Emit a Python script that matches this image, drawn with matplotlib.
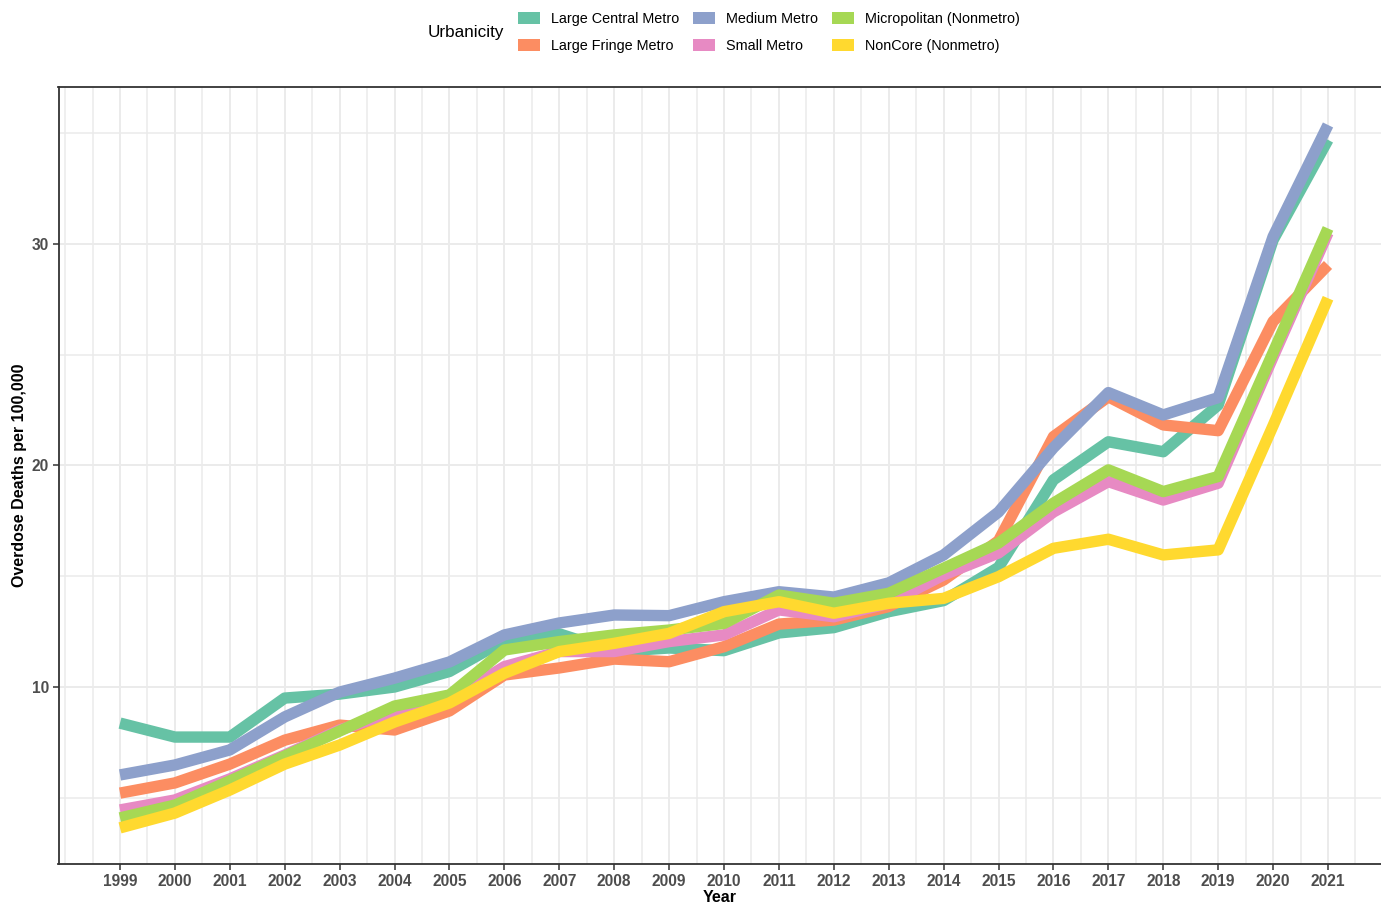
import matplotlib
matplotlib.use("Agg")
import matplotlib.pyplot as plt
from matplotlib.patches import Patch
import numpy as np

plt.rcParams['font.family'] = ['Liberation Sans', 'DejaVu Sans']

years = list(range(1999, 2022))

large_central = [8.37, 7.74, 7.74, 9.5, 9.68, 10.0, 10.7, 12.1, 12.4, 11.6, 11.76, 11.64,
                 12.44, 12.68, 13.4, 13.9, 15.4, 19.35, 21.07, 20.62, 22.73, 30.18, 34.7]
large_fringe = [5.21, 5.67, 6.52, 7.6, 8.28, 8.06, 8.92, 10.54, 10.86, 11.26, 11.14, 11.82,
                12.84, 13.02, 13.63, 14.83, 16.6, 21.3, 23.1, 21.83, 21.57, 26.5, 29.05]
medium = [6.03, 6.48, 7.16, 8.65, 9.77, 10.4, 11.13, 12.35, 12.89, 13.25, 13.22, 13.85,
          14.3, 14.06, 14.7, 15.96, 17.9, 20.8, 23.29, 22.28, 23.06, 30.33, 35.37]
small = [4.45, 4.9, 5.85, 6.93, 8.06, 8.87, 9.41, 10.92, 11.6, 11.6, 12.05, 12.35,
         13.48, 13.17, 13.78, 15.06, 16.05, 17.9, 19.27, 18.44, 19.2, 24.9, 30.5]
micropolitan = [4.09, 4.67, 5.76, 6.88, 8.01, 9.14, 9.64, 11.67, 12.05, 12.35, 12.57, 12.87,
                14.15, 13.78, 14.23, 15.36, 16.5, 18.3, 19.8, 18.82, 19.5, 25.1, 30.7]
noncore = [3.64, 4.31, 5.35, 6.52, 7.38, 8.42, 9.28, 10.62, 11.6, 11.97, 12.42, 13.4,
           13.85, 13.33, 13.78, 14.0, 14.98, 16.26, 16.67, 15.96, 16.19, 21.8, 27.55]

series_names = ["Large Central Metro", "Large Fringe Metro", "Medium Metro",
                "Small Metro", "Micropolitan (Nonmetro)", "NonCore (Nonmetro)"]
series_values = [large_central, large_fringe, medium, small, micropolitan, noncore]
colors = ["#66c2a5", "#fc8d62", "#8da0cb", "#e78ac3", "#a6d854", "#ffd92f"]

W, H = 1381, 905
fig = plt.figure(figsize=(W / 100, H / 100), dpi=100)
ax = fig.add_axes([58.5 / W, (H - 864) / H, (W - 58.5) / W, (864 - 87.3) / H])

for name, vals, c in zip(series_names, series_values, colors):
    ax.plot(years, vals, color=c, lw=8.2, solid_capstyle='butt', solid_joinstyle='round',
            label=name, zorder=3)

ax.set_xlim(1997.88, 2021.965)
ax.set_ylim(2.01, 37.07)

ax.set_xticks(years)
ax.set_xticks(np.arange(1998, 2022, 0.5), minor=True)
ax.set_yticks([10, 20, 30])
ax.set_yticks([5, 15, 25, 35], minor=True)

ax.grid(which='major', color='#ebebeb', lw=1.4, zorder=0)
ax.grid(which='minor', color='#ebebeb', lw=1.1, zorder=0)
ax.set_axisbelow(True)

for s in ['left', 'bottom', 'top']:
    ax.spines[s].set_color('#333333')
    ax.spines[s].set_linewidth(1.3)
ax.spines['right'].set_visible(False)

ax.tick_params(axis='both', which='major', length=4, width=1.1, color='#333333',
               labelsize=11.2, labelcolor='#4d4d4d', pad=3)
ax.tick_params(axis='both', which='minor', length=0)
for lab in ax.get_xticklabels() + ax.get_yticklabels():
    lab.set_fontweight('bold')

ax.set_xlabel("Year", fontsize=11.5, fontweight='bold', labelpad=1)
ax.set_ylabel("Overdose Deaths per 100,000", fontsize=11.5, fontweight='bold', labelpad=3)

handles = [Patch(facecolor=c, edgecolor='none', label=n) for n, c in zip(series_names, colors)]
fs = 10.4
fig.legend(handles=handles, loc='center left', bbox_to_anchor=(518 / W, 1 - 32.5 / H),
           ncol=3, frameon=False, fontsize=fs, handlelength=1.5, handleheight=0.9,
           handletextpad=0.8, columnspacing=0.95, labelspacing=0.85, borderpad=0,
           borderaxespad=0)
fig.text(428 / W, 1 - 33 / H, "Urbanicity", fontsize=12.3, ha='left', va='center')

fig.savefig("out.png", dpi=100)
